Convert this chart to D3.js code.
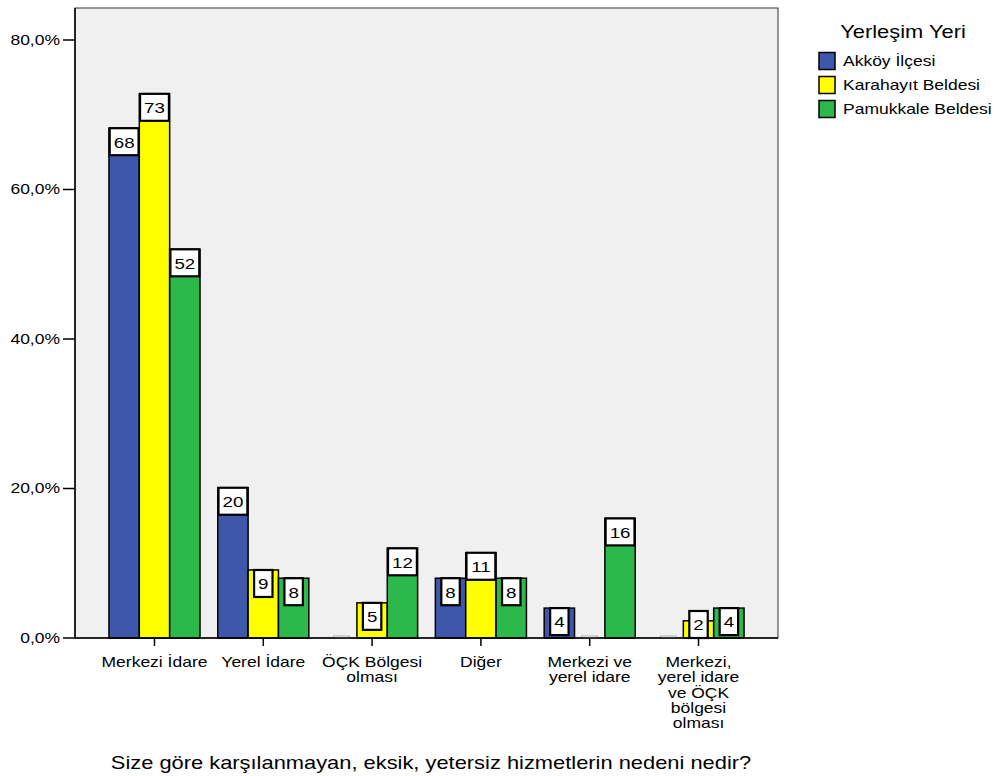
<!DOCTYPE html>
<html>
<head>
<meta charset="utf-8">
<script src="https://cdn.jsdelivr.net/npm/d3@7"></script>
<style>
  html, body { margin: 0; padding: 0; background: #ffffff; }
  text { font-family: "Liberation Sans", Arial, sans-serif; fill: #000; }
</style>
</head>
<body>
<svg id="chart" width="997" height="776"></svg>
<script>
// ---- data ----
const categories = ["Merkezi İdare", "Yerel İdare", "ÖÇK Bölgesi olması", "Diğer", "Merkezi ve yerel idare", "Merkezi, yerel idare ve ÖÇK bölgesi olması"];
const categoryLines = [["Merkezi İdare"], ["Yerel İdare"], ["ÖÇK Bölgesi", "olması"], ["Diğer"], ["Merkezi ve", "yerel idare"], ["Merkezi,", "yerel idare", "ve ÖÇK", "bölgesi", "olması"]];
const seriesNames = ["Akköy İlçesi", "Karahayıt Beldesi", "Pamukkale Beldesi"];
const seriesColors = ["#3E57AB", "#FFFF00", "#2DB84B"];
// percent of each group (bar heights)
const akkoyPct = [68.2, 20.1, 0, 8.0, 4.0, 0];
const karahayitPct = [72.8, 9.1, 4.7, 11.4, 0, 2.3];
const pamukkalePct = [52.0, 8.0, 12.0, 8.0, 16.0, 4.0];
// counts (bar labels)
const akkoyCount = [68, 20, 0, 8, 4, 0];
const karahayitCount = [73, 9, 5, 11, 0, 2];
const pamukkaleCount = [52, 8, 12, 8, 16, 4];
const yTicks = [0, 20, 40, 60, 80];
const xTitle = "Size göre karşılanmayan, eksik, yetersiz hizmetlerin nedeni nedir?";
const legendTitle = "Yerleşim Yeri";

const pctSeries = [akkoyPct, karahayitPct, pamukkalePct];
const countSeries = [akkoyCount, karahayitCount, pamukkaleCount];

// ---- layout ----
const SX = 1.25; // horizontal text stretch seen in the reference
const plot = { left: 75, right: 778, top: 8, bottom: 638 };
const svg = d3.select("#chart");

const y = d3.scaleLinear().domain([0, 80]).range([plot.bottom, 40]);
const x0 = d3.scaleBand().domain(categories).range([plot.left, plot.right]).paddingInner(0.163).paddingOuter(0.312);
const x1 = d3.scaleBand().domain(seriesNames).range([0, x0.bandwidth()]);

function stext(g, x, yy, str, size, anchor) {
  return g.append("text")
    .attr("transform", `translate(${x},${yy}) scale(${SX},1)`)
    .attr("text-anchor", anchor || "middle")
    .attr("dominant-baseline", "central")
    .style("font-size", size + "px")
    .text(str);
}

// plot background
svg.append("rect")
  .attr("x", plot.left).attr("y", plot.top)
  .attr("width", plot.right - plot.left).attr("height", plot.bottom - plot.top)
  .attr("fill", "#F0F0F0").attr("stroke", "#333").attr("stroke-width", 1);

// bars
const groups = svg.append("g");
categories.forEach((c, ci) => {
  seriesNames.forEach((s, si) => {
    const v = pctSeries[si][ci];
    const bx = x0(c) + x1(s);
    const bw = x1.bandwidth();
    if (v > 0) {
      groups.append("rect")
        .attr("x", bx).attr("y", y(v))
        .attr("width", bw).attr("height", y(0) - y(v))
        .attr("fill", seriesColors[si])
        .attr("stroke", "#000").attr("stroke-width", 1.5);
    }
  });
});

// bar labels
const labels = svg.append("g");
categories.forEach((c, ci) => {
  seriesNames.forEach((s, si) => {
    const v = pctSeries[si][ci];
    const n = countSeries[si][ci];
    const cx = x0(c) + x1(s) + x1.bandwidth() / 2;
    if (n === 0) {
      labels.append("rect")
        .attr("x", cx - 8).attr("y", y(0) - 2)
        .attr("width", 16).attr("height", 2)
        .attr("fill", "#fff").attr("stroke", "#999").attr("stroke-width", 0.8);
      return;
    }
    const str = String(n);
    const tw = str.length * 15 * 0.556 * SX;
    const bw = Math.min(tw + 8, x1.bandwidth());
    const bh = 27;
    const top = Math.min(y(v), y(0) - bh);
    labels.append("rect")
      .attr("x", cx - bw / 2).attr("y", top)
      .attr("width", bw).attr("height", bh)
      .attr("fill", "#fff").attr("stroke", "#000").attr("stroke-width", 2.2);
    stext(labels, cx, top + bh / 2 + 1, str, 15, "middle");
  });
});

// y axis
const yAxisG = svg.append("g");
yAxisG.append("line")
  .attr("x1", plot.left).attr("x2", plot.left)
  .attr("y1", plot.top).attr("y2", plot.bottom)
  .attr("stroke", "#000").attr("stroke-width", 1.5);
yTicks.forEach(t => {
  yAxisG.append("line")
    .attr("x1", plot.left - 12).attr("x2", plot.left)
    .attr("y1", y(t)).attr("y2", y(t))
    .attr("stroke", "#000").attr("stroke-width", 1.5);
  stext(yAxisG, plot.left - 15, y(t), d3.format(".1f")(t).replace(".", ",") + "%", 14, "end");
});

// x axis
const xAxisG = svg.append("g");
xAxisG.append("line")
  .attr("x1", plot.left).attr("x2", plot.right)
  .attr("y1", plot.bottom).attr("y2", plot.bottom)
  .attr("stroke", "#000").attr("stroke-width", 1.5);
categories.forEach((c, ci) => {
  const cx = x0(c) + x0.bandwidth() / 2;
  xAxisG.append("line")
    .attr("x1", cx).attr("x2", cx)
    .attr("y1", plot.bottom).attr("y2", plot.bottom + 8)
    .attr("stroke", "#000").attr("stroke-width", 1.5);
  categoryLines[ci].forEach((ln, li) => {
    stext(xAxisG, cx, 662 + li * 15.4, ln, 14, "middle");
  });
});
stext(svg, 431, 763, xTitle, 17.5, "middle");

// legend
const lg = svg.append("g");
stext(lg, 903, 32, legendTitle, 17.5, "middle");
seriesNames.forEach((s, si) => {
  const cy = 61 + si * 24;
  lg.append("rect")
    .attr("x", 819).attr("y", cy - 8.5)
    .attr("width", 16).attr("height", 17)
    .attr("fill", seriesColors[si]).attr("stroke", "#000").attr("stroke-width", 1.5);
  stext(lg, 843, cy, s, 14, "start");
});
</script>
</body>
</html>
